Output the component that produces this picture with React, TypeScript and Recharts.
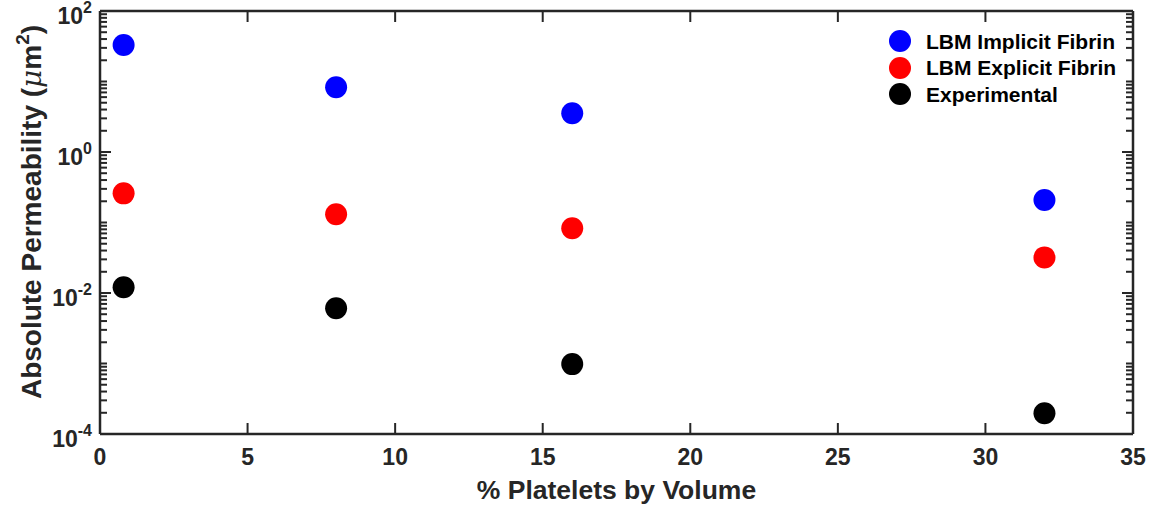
import React from 'react';
import { ScatterChart, Scatter, XAxis, YAxis, Label } from 'recharts';

// Platelet volume fraction (%) for each sample
const platelets = [0.8, 8, 16, 32];
// Absolute permeability (µm²)
const implicitFibrin = [32.9, 8.27, 3.54, 0.208];
const explicitFibrin = [0.259, 0.1306, 0.0828, 0.032];
const experimental = [0.01205, 0.00607, 0.00098, 0.000197];

const seriesNames = ['LBM Implicit Fibrin', 'LBM Explicit Fibrin', 'Experimental'];
const seriesColors = ['#0000ff', '#ff0000', '#000000'];

const xTicks = [0, 5, 10, 15, 20, 25, 30, 35];
const yDecades = [-4, -3, -2, -1, 0, 1];
const yMantissas = [1, 2, 3, 4, 5, 6, 7, 8, 9];
const yLabelledExponents = [-4, -2, 0, 2];

const yTicks: number[] = [];
yDecades.forEach((e) => yMantissas.forEach((m) => yTicks.push(Number((m * Math.pow(10, e)).toPrecision(3)))));
yTicks.push(100);

const toRows = (vals: number[]) => platelets.map((x, i) => ({ x, y: vals[i] }));
const seriesData = [toRows(implicitFibrin), toRows(explicitFibrin), toRows(experimental)];

const FONT = '"Liberation Sans", Arial, Helvetica, sans-serif';
const AXIS = '#262626';
const MAJOR = 11;
const MINOR = 7;

const majorExponent = (v: number): number | null => {
  const l = Math.log10(v);
  const r = Math.round(l);
  if (Math.abs(l - r) < 1e-6 && yLabelledExponents.includes(r)) return r;
  return null;
};

const LeftTick = (props: any) => {
  const { x, y, payload } = props;
  const exp = majorExponent(payload.value);
  const len = exp === null ? MINOR : MAJOR;
  return (
    <g>
      <line x1={x} x2={x + len} y1={y} y2={y} stroke={AXIS} strokeWidth={2} />
      {exp !== null && (
        <text x={x - 8} y={y + 13} textAnchor="end" fill={AXIS} fontFamily={FONT} fontWeight="bold" fontSize={23}>
          <tspan>10</tspan>
          <tspan dy={-11} fontSize={16}>{String(exp)}</tspan>
        </text>
      )}
    </g>
  );
};

const RightTick = (props: any) => {
  const { x, y, payload } = props;
  const exp = majorExponent(payload.value);
  const len = exp === null ? MINOR : MAJOR;
  return <line x1={x} x2={x - len} y1={y} y2={y} stroke={AXIS} strokeWidth={2} />;
};

const BottomTick = (props: any) => {
  const { x, y, payload } = props;
  return (
    <g>
      <line x1={x} x2={x} y1={y} y2={y - MAJOR} stroke={AXIS} strokeWidth={2} />
      <text x={x} y={y + 31} textAnchor="middle" fill={AXIS} fontFamily={FONT} fontWeight="bold" fontSize={23}>
        {payload.value}
      </text>
    </g>
  );
};

const TopTick = (props: any) => {
  const { x, y } = props;
  return <line x1={x} x2={x} y1={y} y2={y + MAJOR} stroke={AXIS} strokeWidth={2} />;
};

const Dot = (color: string) => (props: any) => <circle cx={props.cx} cy={props.cy} r={11} fill={color} />;
const NoDot = () => <g />;

const LegendBox = () => (
  <div
    style={{
      position: 'absolute',
      left: 889,
      top: 28,
      fontFamily: FONT,
      fontWeight: 'bold',
      fontSize: 21,
      color: '#000',
      lineHeight: 1,
    }}
  >
    {seriesNames.map((name, i) => (
      <div key={name} style={{ display: 'flex', alignItems: 'center', height: 26.5 }}>
        <div style={{ width: 22, height: 22, borderRadius: 11, background: seriesColors[i], marginRight: 15 }} />
        <span>{name}</span>
      </div>
    ))}
  </div>
);

export default function App() {
  return (
    <div style={{ position: 'absolute', left: 0, top: 0, width: 1153, height: 507, background: '#fff' }}>
      <ScatterChart width={1153} height={507} margin={{ top: 10, right: 19, bottom: 0, left: 0 }}>
        <XAxis
          xAxisId="b"
          type="number"
          dataKey="x"
          domain={[0, 35]}
          ticks={xTicks}
          allowDataOverflow
          height={73}
          tickSize={0}
          tickMargin={0}
          tick={<BottomTick />}
          axisLine={{ stroke: AXIS, strokeWidth: 2.5 }}
          tickLine={false}
          interval={0}
        >
          <Label
            content={(p: any) => (
              <text
                x={p.viewBox.x + p.viewBox.width / 2}
                y={499}
                textAnchor="middle"
                fill={AXIS}
                fontFamily={FONT}
                fontWeight="bold"
                fontSize={26.5}
              >
                % Platelets by Volume
              </text>
            )}
          />
        </XAxis>
        <XAxis
          xAxisId="t"
          orientation="top"
          type="number"
          dataKey="x"
          domain={[0, 35]}
          ticks={xTicks}
          allowDataOverflow
          height={1}
          tickSize={0}
          tickMargin={0}
          tick={<TopTick />}
          axisLine={{ stroke: AXIS, strokeWidth: 2.5 }}
          tickLine={false}
          interval={0}
        />
        <YAxis
          yAxisId="l"
          type="number"
          dataKey="y"
          scale="log"
          domain={[0.0001, 100]}
          ticks={yTicks}
          allowDataOverflow
          width={100}
          tickSize={0}
          tickMargin={0}
          tick={<LeftTick />}
          axisLine={{ stroke: AXIS, strokeWidth: 2.5 }}
          tickLine={false}
          interval={0}
        >
          <Label
            content={() => (
              <text
                x={41}
                y={212}
                transform="rotate(-90 41 212)"
                textAnchor="middle"
                fill={AXIS}
                fontFamily={FONT}
                fontWeight="bold"
                fontSize={28}
              >
                <tspan>Absolute Permeability (</tspan>
                <tspan fontStyle="italic" fontFamily="'DejaVu Serif', serif" fontWeight="normal">μ</tspan>
                <tspan>m</tspan>
                <tspan dy={-12} fontSize={19}>2</tspan>
                <tspan dy={12}>)</tspan>
              </text>
            )}
          />
        </YAxis>
        <YAxis
          yAxisId="r"
          orientation="right"
          type="number"
          dataKey="y"
          scale="log"
          domain={[0.0001, 100]}
          ticks={yTicks}
          allowDataOverflow
          width={1}
          tickSize={0}
          tickMargin={0}
          tick={<RightTick />}
          axisLine={{ stroke: AXIS, strokeWidth: 2.5 }}
          tickLine={false}
          interval={0}
        />
        {seriesData.map((rows, i) => (
          <Scatter
            key={seriesNames[i]}
            name={seriesNames[i]}
            data={rows}
            xAxisId="b"
            yAxisId="l"
            fill={seriesColors[i]}
            shape={Dot(seriesColors[i])}
            isAnimationActive={false}
          />
        ))}
        {/* binds the frame axes (top / right) to the same data without drawing marks */}
        <Scatter
          data={seriesData[2]}
          xAxisId="t"
          yAxisId="r"
          shape={NoDot}
          legendType="none"
          isAnimationActive={false}
        />
      </ScatterChart>
      <LegendBox />
    </div>
  );
}
